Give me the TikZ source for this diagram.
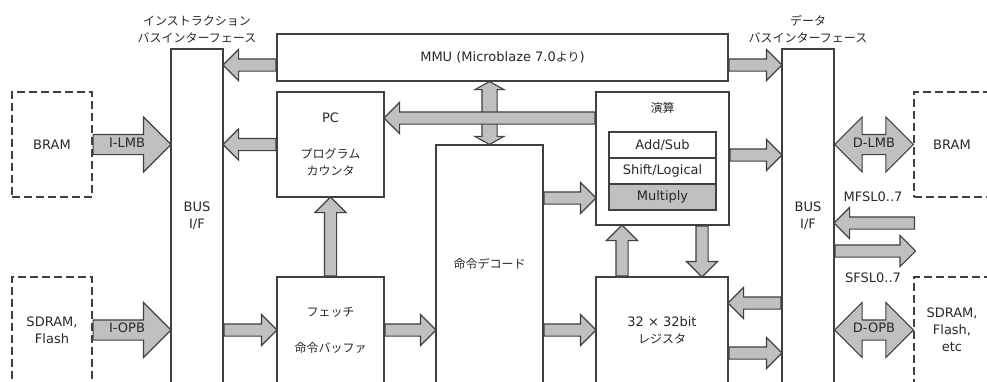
\documentclass[tikz,border=0pt]{standalone}
\usepackage{fontspec}
\setmainfont{DejaVu Sans}
\newfontfamily\jpfont{Noto Sans CJK JP}
\usepackage{tikz}
\usetikzlibrary{positioning, calc, shapes.arrows}
\definecolor{mbline}{RGB}{64,64,64}
\definecolor{mbfill}{RGB}{192,192,192}
\definecolor{mbtext}{RGB}{40,40,40}

\newcommand{\jp}[1]{{\jpfont\fontsize{12}{17}\selectfont #1}}

% block arrow between two named points
\newcommand{\busarrow}[4][pipe]{%
  \path let \p1=(#2), \p2=(#3), \p3=($(\p2)-(\p1)$),
    \n1={veclen(\x3,\y3)}, \n2={atan2(\y3,\x3)} in
    node[#1, minimum height=\n1, rotate=\n2, anchor=tail] at (\p1) {#4};}
\newcommand{\busdarrow}[4][dpipe]{%
  \path let \p1=(#2), \p2=(#3), \p3=($(\p2)-(\p1)$),
    \n1={veclen(\x3,\y3)}, \n2={atan2(\y3,\x3)} in
    node[#1, minimum height=\n1, rotate=\n2] at ($(\p1)!0.5!(\p2)$) {#4};}

\tikzset{
  cpublock/.style={draw=mbline, line width=1.1pt, fill=white, inner sep=0pt, align=center},
  extmem/.style={draw=mbline, line width=1.1pt, dash pattern=on 8pt off 4pt, inner sep=0pt, align=center},
  aluslot/.style={draw=mbline, line width=1.1pt, minimum width=107pt, minimum height=26pt, inner sep=0pt, outer sep=0pt},
  pipe/.style={single arrow, draw=mbline, fill=mbfill, line width=1.1pt, single arrow head extend=9.5pt,
    inner xsep=0pt, inner ysep=5.5pt, text height=0pt, text depth=0pt},
  widepipe/.style={pipe, single arrow head extend=17.5pt, inner ysep=5pt, text height=7pt, text depth=2pt},
  dpipe/.style={double arrow, draw=mbline, fill=mbfill, line width=1.1pt, double arrow head extend=17.5pt,
    inner xsep=0pt, inner ysep=5pt, text height=7pt, text depth=2pt},
  mmupipe/.style={dpipe, double arrow head extend=7pt, double arrow tip angle=122, inner ysep=7pt,
    text height=0pt, text depth=0pt},
}

\begin{document}
\begin{tikzpicture}[x=1pt, y=-1pt, every node/.style={font=\fontsize{13}{17}\selectfont, text=mbtext}]
  \clip (0,0) rectangle (987,381);

  % bus interfaces
  \node[cpublock, minimum width=52pt, minimum height=334pt] (ibus) at (197,216) {BUS\\I/F};
  \node[cpublock, minimum width=52pt, minimum height=334pt] (dbus) at (808,216) {BUS\\I/F};
  \node[align=center, above=2pt of ibus] (ibustitle) {\jp{インストラクション}\\\jp{バスインターフェース}};
  \node[align=center, above=2pt of dbus] (dbustitle) {\jp{データ}\\\jp{バスインターフェース}};

  % core
  \node[cpublock, minimum width=451pt, minimum height=47pt] (mmu) at (502.5,57.5) {MMU (Microblaze 7.0\jp{より})};
  \node[cpublock, minimum width=107pt, minimum height=105pt] (pc) at (330.5,144.5)
    {PC\\[19pt]\jp{プログラム}\\\jp{カウンタ}};
  \node[cpublock, minimum width=107pt, minimum height=106pt] (fetch) at (330.5,330)
    {\jp{フェッチ}\\[19pt]\jp{命令バッファ}};
  \node[cpublock, minimum width=107pt, minimum height=238pt] (decode) at (489.5,264) {\jp{命令デコード}};
  \node[cpublock, minimum width=133pt, minimum height=133pt,
    label={[anchor=north, yshift=-7pt]north:\jp{演算}}] (alu) at (662.5,158.5) {};
  \node[aluslot] (addsub) at (662.5,145) {Add/Sub};
  \node[aluslot, below=0pt of addsub] (shift) {Shift/Logical};
  \node[aluslot, fill=mbfill, below=0pt of shift] (mult) {Multiply};
  \node[cpublock, minimum width=132pt, minimum height=106pt] (reg) at (662,330) {32 × 32bit\\\jp{レジスタ}};

  % external memories
  \node[extmem, minimum width=80pt, minimum height=105pt] (bram1) at (52,144.5) {BRAM};
  \node[extmem, minimum width=80pt, minimum height=106pt] (sdram1) at (52,330) {SDRAM,\\Flash};
  \node[extmem, minimum width=76pt, minimum height=105pt] (bram2) at (952,144.5) {BRAM};
  \node[extmem, minimum width=76pt, minimum height=106pt] (sdram2) at (952,330) {SDRAM,\\Flash,\\etc};

  \coordinate (m1) at ([yshift=-7.5pt]mmu.west);
  \coordinate (m2) at ([yshift=-7.5pt]mmu.east);
  \coordinate (a1) at ([yshift=40.5pt]alu.west);
  \coordinate (a2) at ([yshift=-39.5pt]alu.west);
  \coordinate (a3) at ([yshift=3.5pt]alu.east);
  \coordinate (r1) at ([xshift=-40pt]reg.north);
  \coordinate (r2) at ([xshift=40pt]reg.north);
  \coordinate (r3) at ([yshift=27pt]reg.east);
  \coordinate (r4) at ([yshift=-23pt]reg.east);
  \coordinate (mfsl) at (915,223);
  \coordinate (sfsl) at (915,251);

  % instruction side
  \busarrow[widepipe]{bram1.east}{bram1.east -| ibus.west}{I-LMB}
  \busarrow[widepipe]{sdram1.east}{sdram1.east -| ibus.west}{I-OPB}
  \busarrow{m1}{m1 -| ibus.east}{}
  \busarrow{pc.west}{pc.west -| ibus.east}{}
  \busarrow{fetch.west -| ibus.east}{fetch.west}{}
  \busarrow{fetch.north}{pc.south}{}
  \busdarrow[mmupipe]{decode.north |- mmu.south}{decode.north}{}
  \busarrow{a1}{a1 -| pc.east}{}
  \busarrow{fetch.east}{fetch.east -| decode.west}{}

  % execute side
  \busarrow{a2 -| decode.east}{a2}{}
  \busarrow{reg.west -| decode.east}{reg.west}{}
  \busarrow{r1}{r1 |- alu.south}{}
  \busarrow{r2 |- alu.south}{r2}{}

  % data side
  \busarrow{m2}{m2 -| dbus.west}{}
  \busarrow{a3}{a3 -| dbus.west}{}
  \busarrow{r3 -| dbus.west}{r3}{}
  \busarrow{r4}{r4 -| dbus.west}{}
  \busarrow{mfsl}{mfsl -| dbus.east}{}
  \busarrow{sfsl -| dbus.east}{sfsl}{}
  \busdarrow{dbus.east |- bram2.west}{bram2.west}{D-LMB}
  \busdarrow{dbus.east |- sdram2.west}{sdram2.west}{D-OPB}
  \node (mfsllbl) at (873,197) {MFSL0..7};
  \node (sfsllbl) at (873,278) {SFSL0..7};
\end{tikzpicture}
\end{document}
